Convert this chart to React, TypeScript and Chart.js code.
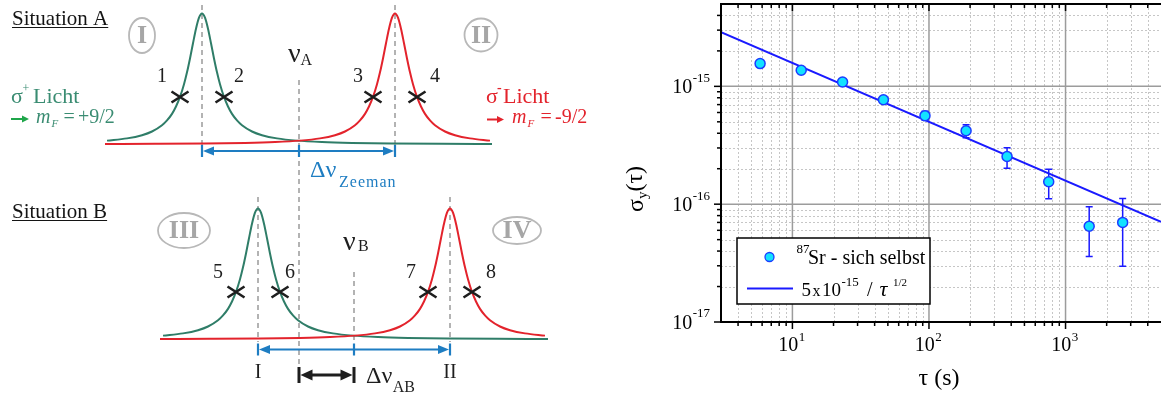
import React, { useEffect, useRef } from "react";
import { Chart, registerables } from "chart.js";
Chart.register(...registerables);

const SERIF = "'Liberation Serif', 'Times New Roman', serif";

// ---------------- Left: schematic resonance data ----------------
const profileOffsets = [0, 3, 6, 9, 12, 15, 18, 22, 26, 30, 35, 40, 50, 60, 75, 95, 120, 150, 190, 240, 290];
const profileValues = [1, 0.968, 0.884, 0.773, 0.657, 0.551, 0.46, 0.363, 0.29, 0.234, 0.184, 0.147, 0.0993, 0.0711, 0.0467, 0.0296, 0.0188, 0.0121, 0.0076, 0.0048, 0.0033];
const sigmaPlusCenters = [202, 258]; // I, III
const sigmaMinusCenters = [395, 450]; // II, IV
const clockCenters = [299, 354]; // nu_A, nu_B
const baselines = [144.5, 339.5];
const peakHeights = [131, 131];
const spanStart = [107, 163];
const spanEnd = [492, 547];
const probeOffset = 22;
const probeLabels = [["1", "2", "3", "4"], ["5", "6", "7", "8"]];
const resonanceLabels = [["I", "II"], ["III", "IV"]];
const situationLabels = ["Situation A", "Situation B"];

// ---------------- Right: Allan deviation data ----------------
const tau = [5.8, 11.6, 23.3, 46.4, 93.5, 187, 373, 753, 1490, 2620];
const sigmaY = [1.56e-15, 1.37e-15, 1.09e-15, 7.7e-16, 5.64e-16, 4.2e-16, 2.54e-16, 1.55e-16, 6.5e-17, 7.0e-17];
const sigmaUpper = [1.6e-15, 1.41e-15, 1.12e-15, 7.9e-16, 6.15e-16, 4.72e-16, 3.01e-16, 1.98e-16, 9.5e-17, 1.12e-16];
const sigmaLower = [1.52e-15, 1.33e-15, 1.06e-15, 7.5e-16, 5.15e-16, 3.66e-16, 2.02e-16, 1.11e-16, 3.6e-17, 2.97e-17];
const fitTau = [3, 5000];
const fitSigma = [2.89e-15, 7.07e-17];
const xRange = [3, 5000];
const yRange = [1e-17, 5e-15];
const xMajorTicks = [10, 100, 1000];
const xTickExponents = ["1", "2", "3"];
const yMajorTicks = [1e-17, 1e-16, 1e-15];
const yTickExponents = ["-17", "-16", "-15"];
const minorMultipliers = [2, 3, 4, 5, 6, 7, 8, 9];
const xDecades = [1, 10, 100, 1000];
const yDecades = [1e-17, 1e-16, 1e-15];

const GREEN = "#2f7d68";
const GREEN_TXT = "#3a8c72";
const GREEN_ARROW = "#1fa64a";
const RED = "#e3232c";
const BLUE = "#1e7dc2";
const GUIDE = "#b3b3b3";
const DATA_BLUE = "#1a1aff";

function txt(ctx: CanvasRenderingContext2D, s: string, x: number, y: number, size: number, color: string, opts: any = {}) {
  ctx.font = `${opts.italic ? "italic " : ""}${opts.bold ? "bold " : ""}${size}px ${SERIF}`;
  ctx.fillStyle = color;
  ctx.textAlign = opts.align || "left";
  ctx.textBaseline = opts.baseline || "alphabetic";
  ctx.fillText(s, x, y);
  return ctx.measureText(s).width;
}

function measure(ctx: CanvasRenderingContext2D, s: string, size: number, opts: any = {}) {
  ctx.font = `${opts.italic ? "italic " : ""}${opts.bold ? "bold " : ""}${size}px ${SERIF}`;
  return ctx.measureText(s).width;
}

function head(ctx: CanvasRenderingContext2D, x: number, y: number, dir: number, len: number, half: number) {
  ctx.beginPath();
  ctx.moveTo(x, y);
  ctx.lineTo(x - dir * len, y - half);
  ctx.lineTo(x - dir * len, y + half);
  ctx.closePath();
  ctx.fill();
}

function makeCrossImage(): HTMLCanvasElement {
  const c = document.createElement("canvas");
  c.width = 20;
  c.height = 14;
  const g = c.getContext("2d")!;
  g.strokeStyle = "#1e1e1e";
  g.lineWidth = 2.6;
  g.beginPath();
  g.moveTo(1.5, 1.5);
  g.lineTo(18.5, 12.5);
  g.moveTo(1.5, 12.5);
  g.lineTo(18.5, 1.5);
  g.stroke();
  return c;
}

function buildCurve(center: number, start: number, end: number, base: number, h: number) {
  const pts: { x: number; y: number }[] = [];
  for (let i = profileOffsets.length - 1; i >= 1; i--) {
    const x = center - profileOffsets[i];
    if (x >= start - 4) pts.push({ x, y: base - h * profileValues[i] });
  }
  pts.push({ x: center, y: base - h * profileValues[0] });
  for (let i = 1; i < profileOffsets.length; i++) {
    const x = center + profileOffsets[i];
    if (x <= end + 4) pts.push({ x, y: base - h * profileValues[i] });
  }
  return pts;
}

const peakGuideTop = [5, 197];
const peakGuideBottom = [158, 342];
const clockGuideTop = [80, 272];
const clockGuideBottom = [372, 353];

function leftConfig(): any {
  const probeIdx = profileOffsets.indexOf(probeOffset);
  const probes: { x: number; y: number }[] = [];
  for (let s = 0; s < 2; s++) {
    const yP = baselines[s] - peakHeights[s] * profileValues[probeIdx];
    probes.push({ x: sigmaPlusCenters[s] - probeOffset, y: yP });
    probes.push({ x: sigmaPlusCenters[s] + probeOffset, y: yP });
    probes.push({ x: sigmaMinusCenters[s] - probeOffset, y: yP });
    probes.push({ x: sigmaMinusCenters[s] + probeOffset, y: yP });
  }
  const datasets: any[] = [
    { data: probes, pointStyle: makeCrossImage(), pointRadius: 8, showLine: false, clip: false },
  ];
  for (let s = 0; s < 2; s++) {
    datasets.push({
      data: buildCurve(sigmaMinusCenters[s], spanStart[s], spanEnd[s], baselines[s], peakHeights[s]),
      showLine: true, borderColor: RED, borderWidth: 2, pointRadius: 0, cubicInterpolationMode: "monotone", clip: false,
    });
    datasets.push({
      data: buildCurve(sigmaPlusCenters[s], spanStart[s], spanEnd[s], baselines[s], peakHeights[s]),
      showLine: true, borderColor: GREEN, borderWidth: 2, pointRadius: 0, cubicInterpolationMode: "monotone", clip: false,
    });
  }
  for (let s = 0; s < 2; s++) {
    const guides = [
      [sigmaPlusCenters[s], peakGuideTop[s], peakGuideBottom[s]],
      [sigmaMinusCenters[s], peakGuideTop[s], peakGuideBottom[s]],
      [clockCenters[s], clockGuideTop[s], clockGuideBottom[s]],
    ];
    guides.forEach(([gx, t, b]) =>
      datasets.push({
        data: [{ x: gx, y: t }, { x: gx, y: b }],
        showLine: true, borderColor: GUIDE, borderWidth: 2, borderDash: [5, 4], pointRadius: 0, clip: false,
      })
    );
  }

  const plugin = {
    id: "schematicText",
    afterDraw(chart: any) {
      const ctx: CanvasRenderingContext2D = chart.ctx;
      const xs = chart.scales.x, ys = chart.scales.y;
      const px = (v: number) => xs.getPixelForValue(v);
      const py = (v: number) => ys.getPixelForValue(v);
      ctx.save();

      // Situation headings
      const headY = [25, 218];
      for (let s = 0; s < 2; s++) {
        const w = txt(ctx, situationLabels[s], 12, headY[s], 21, "#141414");
        ctx.strokeStyle = "#141414";
        ctx.lineWidth = 1.2;
        ctx.beginPath();
        ctx.moveTo(12, headY[s] + 2.5);
        ctx.lineTo(12 + w, headY[s] + 2.5);
        ctx.stroke();
      }

      // circled roman numerals
      const ell = [
        [142, 35.5, 13, 17.5], [481, 35, 16.5, 16.5],
        [184, 230.5, 26, 17.5], [517, 230.5, 24, 13.5],
      ];
      const romans = [resonanceLabels[0][0], resonanceLabels[0][1], resonanceLabels[1][0], resonanceLabels[1][1]];
      ell.forEach(([cx, cy, rx, ry], i) => {
        ctx.strokeStyle = "#b8b8b8";
        ctx.lineWidth = 1.8;
        ctx.beginPath();
        ctx.ellipse(cx, cy, rx, ry, 0, 0, Math.PI * 2);
        ctx.stroke();
        txt(ctx, romans[i], cx, cy + 1, 26, "#a6a6a6", { bold: true, align: "center", baseline: "middle" });
      });

      // probe numbers
      const numPos = [
        [[-18, -20], [15, -20], [-15, -20], [18, -20]],
        [[-18, -19], [10, -19], [-17, -19], [19, -19]],
      ];
      const probeIdx = profileOffsets.indexOf(probeOffset);
      for (let s = 0; s < 2; s++) {
        const yP = py(baselines[s] - peakHeights[s] * profileValues[probeIdx]);
        const xsP = [
          sigmaPlusCenters[s] - probeOffset, sigmaPlusCenters[s] + probeOffset,
          sigmaMinusCenters[s] - probeOffset, sigmaMinusCenters[s] + probeOffset,
        ];
        xsP.forEach((xv, i) => {
          txt(ctx, probeLabels[s][i], px(xv) + numPos[s][i][0], yP + numPos[s][i][1], 20, "#1e1e1e", { align: "center", baseline: "middle" });
        });
      }

      // nu_A, nu_B
      txt(ctx, "ν", 288, 61.5, 28, "#1e1e1e");
      txt(ctx, "A", 300.5, 65, 16, "#1e1e1e");
      txt(ctx, "ν", 343, 249.5, 28, "#1e1e1e");
      txt(ctx, "B", 358, 251, 16, "#1e1e1e");

      // sigma+ / sigma- texts
      txt(ctx, "σ", 11, 103, 22, GREEN_TXT);
      txt(ctx, "+", 22.5, 92, 12, GREEN_TXT);
      txt(ctx, "Licht", 33, 103, 22, GREEN_TXT);
      ctx.strokeStyle = GREEN_ARROW; ctx.fillStyle = GREEN_ARROW; ctx.lineWidth = 2;
      ctx.beginPath(); ctx.moveTo(11, 119); ctx.lineTo(23, 119); ctx.stroke();
      head(ctx, 29, 119, 1, 7, 3.5);
      txt(ctx, "m", 36, 122.5, 20, GREEN_TXT, { italic: true });
      txt(ctx, "F", 51.5, 126.5, 11, GREEN_TXT, { italic: true });
      txt(ctx, "=", 63.5, 122.5, 20, GREEN_TXT);
      txt(ctx, "+9/2", 78, 122.5, 20, GREEN_TXT);

      txt(ctx, "σ", 486, 103, 22, RED);
      txt(ctx, "-", 497, 92, 14, RED, { bold: true });
      txt(ctx, "Licht", 503, 103, 22, RED);
      ctx.strokeStyle = RED; ctx.fillStyle = RED; ctx.lineWidth = 2;
      ctx.beginPath(); ctx.moveTo(487, 119.5); ctx.lineTo(498, 119.5); ctx.stroke();
      head(ctx, 504, 119.5, 1, 7, 3.5);
      txt(ctx, "m", 512, 122.5, 20, RED, { italic: true });
      txt(ctx, "F", 527.5, 126.5, 11, RED, { italic: true });
      txt(ctx, "=", 540.5, 122.5, 20, RED);
      txt(ctx, "-9/2", 555, 122.5, 20, RED);

      // blue Zeeman arrows
      const arrowY = [151, 349.5];
      for (let s = 0; s < 2; s++) {
        const y = arrowY[s];
        const x1 = px(sigmaPlusCenters[s]), x2 = px(sigmaMinusCenters[s]), xm = px(clockCenters[s]);
        ctx.strokeStyle = BLUE; ctx.fillStyle = BLUE; ctx.lineWidth = 2.2;
        ctx.beginPath(); ctx.moveTo(x1 + 6, y); ctx.lineTo(x2 - 6, y); ctx.stroke();
        head(ctx, x1 + 1, y, -1, 11, 4.5);
        head(ctx, x2 - 1, y, 1, 11, 4.5);
        [x1, xm, x2].forEach((xx) => {
          ctx.beginPath(); ctx.moveTo(xx, y - 6); ctx.lineTo(xx, y + 6); ctx.stroke();
        });
      }
      txt(ctx, "Δν", 310, 177, 24, BLUE);
      (ctx as any).letterSpacing = "1px";
      txt(ctx, "Zeeman", 339, 187, 16, BLUE);
      (ctx as any).letterSpacing = "0px";

      // I / II labels
      txt(ctx, resonanceLabels[0][0], px(sigmaPlusCenters[1]), 373, 20, "#1e1e1e", { align: "center", baseline: "middle" });
      txt(ctx, resonanceLabels[0][1], px(sigmaMinusCenters[1]), 373, 20, "#1e1e1e", { align: "center", baseline: "middle" });

      // black delta nu_AB arrow
      const ya = 375;
      const a1 = px(clockCenters[0]), a2 = px(clockCenters[1]);
      ctx.strokeStyle = "#1e1e1e"; ctx.fillStyle = "#1e1e1e"; ctx.lineWidth = 3;
      ctx.beginPath(); ctx.moveTo(a1 + 8, ya); ctx.lineTo(a2 - 8, ya); ctx.stroke();
      ctx.beginPath(); ctx.moveTo(a1, ya - 8); ctx.lineTo(a1, ya + 8); ctx.moveTo(a2, ya - 8); ctx.lineTo(a2, ya + 8); ctx.stroke();
      head(ctx, a1 + 1.5, ya, -1, 12, 5.5);
      head(ctx, a2 - 1.5, ya, 1, 12, 5.5);
      const wd = txt(ctx, "Δν", 366, 383, 24, "#1e1e1e");
      txt(ctx, "AB", 366 + wd + 0.5, 391.5, 16, "#1e1e1e");

      ctx.restore();
    },
  };

  return {
    type: "scatter",
    data: { datasets },
    options: {
      responsive: false,
      animation: false,
      events: [],
      layout: { padding: 0, autoPadding: false },
      scales: {
        x: { type: "linear", min: 0, max: 600, display: false },
        y: { type: "linear", min: 0, max: 396, reverse: true, display: false },
      },
      plugins: { legend: { display: false }, tooltip: { enabled: false } },
    },
    plugins: [plugin],
  };
}

function rightConfig(): any {
  const points = tau.map((t, i) => ({ x: t, y: sigmaY[i] }));
  const fit = fitTau.map((t, i) => ({ x: t, y: fitSigma[i] }));

  const plugin = {
    id: "allanDecor",
    beforeDatasetsDraw(chart: any) {
      const ctx: CanvasRenderingContext2D = chart.ctx;
      const a = chart.chartArea;
      const xs = chart.scales.x, ys = chart.scales.y;
      ctx.save();
      // minor grid
      ctx.strokeStyle = "#c6c6c6";
      ctx.lineWidth = 1;
      ctx.setLineDash([2, 2]);
      xDecades.forEach((d) =>
        minorMultipliers.forEach((m) => {
          const v = m * d;
          if (v <= xRange[0] || v >= xRange[1]) return;
          const p = Math.round(xs.getPixelForValue(v)) + 0.5;
          ctx.beginPath(); ctx.moveTo(p, a.top); ctx.lineTo(p, a.bottom); ctx.stroke();
        })
      );
      yDecades.forEach((d) =>
        minorMultipliers.forEach((m) => {
          const v = m * d;
          if (v <= yRange[0] || v >= yRange[1]) return;
          const p = Math.round(ys.getPixelForValue(v)) + 0.5;
          ctx.beginPath(); ctx.moveTo(a.left, p); ctx.lineTo(a.right, p); ctx.stroke();
        })
      );
      // major grid
      ctx.setLineDash([]);
      ctx.strokeStyle = "#9c9c9c";
      ctx.lineWidth = 1.5;
      xMajorTicks.forEach((v) => {
        const p = xs.getPixelForValue(v);
        ctx.beginPath(); ctx.moveTo(p, a.top); ctx.lineTo(p, a.bottom); ctx.stroke();
      });
      yMajorTicks.forEach((v) => {
        const p = ys.getPixelForValue(v);
        ctx.beginPath(); ctx.moveTo(a.left, p); ctx.lineTo(a.right, p); ctx.stroke();
      });
      // error bars
      ctx.strokeStyle = DATA_BLUE;
      ctx.lineWidth = 1.5;
      tau.forEach((t, i) => {
        const p = xs.getPixelForValue(t);
        const t1 = ys.getPixelForValue(sigmaUpper[i]);
        const b1 = ys.getPixelForValue(sigmaLower[i]);
        ctx.beginPath();
        ctx.moveTo(p, t1); ctx.lineTo(p, b1);
        ctx.moveTo(p - 3.5, t1); ctx.lineTo(p + 3.5, t1);
        ctx.moveTo(p - 3.5, b1); ctx.lineTo(p + 3.5, b1);
        ctx.stroke();
      });
      ctx.restore();
    },
    afterDraw(chart: any) {
      const ctx: CanvasRenderingContext2D = chart.ctx;
      const a = chart.chartArea;
      const xs = chart.scales.x, ys = chart.scales.y;
      ctx.save();
      // axes
      ctx.strokeStyle = "#000";
      ctx.lineWidth = 2;
      ctx.beginPath();
      ctx.moveTo(a.left, a.top); ctx.lineTo(a.left, a.bottom);
      ctx.moveTo(a.left - 1, a.bottom); ctx.lineTo(a.right, a.bottom);
      ctx.moveTo(a.left - 1, a.top); ctx.lineTo(a.right, a.top);
      ctx.stroke();
      // ticks
      ctx.lineWidth = 1.5;
      const xTick = (v: number, len: number) => {
        const p = xs.getPixelForValue(v);
        ctx.beginPath();
        ctx.moveTo(p, a.bottom); ctx.lineTo(p, a.bottom + len);
        ctx.moveTo(p, a.top); ctx.lineTo(p, a.top + len);
        ctx.stroke();
      };
      const yTick = (v: number, len: number) => {
        const p = ys.getPixelForValue(v);
        ctx.beginPath(); ctx.moveTo(a.left, p); ctx.lineTo(a.left - len, p); ctx.stroke();
      };
      xMajorTicks.forEach((v) => xTick(v, 7));
      xDecades.forEach((d) => minorMultipliers.forEach((m) => {
        const v = m * d;
        if (v > xRange[0] && v < xRange[1]) xTick(v, 4);
      }));
      yMajorTicks.forEach((v) => yTick(v, 7));
      yDecades.forEach((d) => minorMultipliers.forEach((m) => {
        const v = m * d;
        if (v > yRange[0] && v < yRange[1]) yTick(v, 4);
      }));

      // x tick labels
      xMajorTicks.forEach((v, i) => {
        const p = xs.getPixelForValue(v);
        const w1 = measure(ctx, "10", 20);
        const w2 = measure(ctx, xTickExponents[i], 13);
        const s = p - (w1 + w2) / 2 - 1;
        txt(ctx, "10", s, 346, 20, "#000", { baseline: "middle" });
        txt(ctx, xTickExponents[i], s + w1 + 0.5, 338, 13, "#000", { baseline: "middle" });
      });
      // y tick labels
      yMajorTicks.forEach((v, i) => {
        const p = ys.getPixelForValue(v);
        const right = a.left - 11;
        const w2 = txt(ctx, yTickExponents[i], right, p - 8, 13, "#000", { align: "right", baseline: "middle" });
        txt(ctx, "10", right - w2 - 0.5, p + 1.5, 20, "#000", { align: "right", baseline: "middle" });
      });

      // axis titles
      txt(ctx, "τ (s)", 339, 379, 24, "#000", { align: "center", baseline: "middle" });
      ctx.save();
      ctx.translate(37, 189);
      ctx.rotate(-Math.PI / 2);
      const w1 = measure(ctx, "σ", 24), w2 = measure(ctx, "y", 15), w3 = measure(ctx, "(τ)", 24);
      let sx = -(w1 + w2 + w3) / 2;
      txt(ctx, "σ", sx, 0, 24, "#000", { baseline: "middle" });
      sx += w1;
      txt(ctx, "y", sx, 6, 15, "#000", { baseline: "middle" });
      sx += w2;
      txt(ctx, "(τ)", sx, -1, 24, "#000", { baseline: "middle" });
      ctx.restore();

      // legend
      const L = 137, T = 238, R = 330, B = 304;
      ctx.fillStyle = "#fff";
      ctx.fillRect(L, T, R - L, B - T);
      ctx.strokeStyle = "#000";
      ctx.lineWidth = 1.5;
      ctx.strokeRect(L, T, R - L, B - T);
      ctx.beginPath();
      ctx.arc(169.5, 257, 4.5, 0, Math.PI * 2);
      ctx.fillStyle = "#12e2ff";
      ctx.fill();
      ctx.strokeStyle = "#1a3cff";
      ctx.lineWidth = 1.3;
      ctx.stroke();
      txt(ctx, "87", 196.5, 253, 13, "#000");
      txt(ctx, "Sr - sich selbst", 208, 264, 20, "#000");
      ctx.strokeStyle = DATA_BLUE;
      ctx.lineWidth = 2;
      ctx.beginPath(); ctx.moveTo(147, 288.5); ctx.lineTo(193, 288.5); ctx.stroke();
      txt(ctx, "5", 201.5, 295.5, 19, "#000");
      txt(ctx, "x", 212.5, 295.5, 16, "#000");
      txt(ctx, "10", 222, 295.5, 19, "#000");
      txt(ctx, "-15", 241.5, 285.5, 13, "#000");
      txt(ctx, "/", 267, 295.5, 20, "#000");
      txt(ctx, "τ", 279.5, 295.5, 22, "#000", { italic: true });
      txt(ctx, "1/2", 293, 285.5, 11, "#000");
      ctx.restore();
    },
  };

  return {
    type: "scatter",
    data: {
      datasets: [
        {
          data: points, showLine: false, pointRadius: 5, pointBorderWidth: 1.5,
          pointBackgroundColor: "#12e2ff", pointBorderColor: "#1a3cff", clip: false,
        },
        {
          data: fit, showLine: true, borderColor: DATA_BLUE, borderWidth: 2, pointRadius: 0,
        },
      ],
    },
    options: {
      responsive: false,
      animation: false,
      events: [],
      layout: { padding: { left: 121, right: 0, top: 4, bottom: 74 }, autoPadding: false },
      scales: {
        x: { type: "logarithmic", min: xRange[0], max: xRange[1], display: false },
        y: { type: "logarithmic", min: yRange[0], max: yRange[1], display: false },
      },
      plugins: { legend: { display: false }, tooltip: { enabled: false } },
    },
    plugins: [plugin],
  };
}

export default function App() {
  const leftRef = useRef<HTMLCanvasElement>(null);
  const rightRef = useRef<HTMLCanvasElement>(null);
  useEffect(() => {
    document.body.style.margin = "0";
    const left = new Chart(leftRef.current!, leftConfig());
    const right = new Chart(rightRef.current!, rightConfig());
    return () => {
      left.destroy();
      right.destroy();
    };
  }, []);
  return (
    <div style={{ position: "absolute", left: 0, top: 0, width: 1161, height: 396, background: "#fff" }}>
      <canvas ref={leftRef} width={600} height={396} style={{ position: "absolute", left: 0, top: 0, width: 600, height: 396 }} />
      <canvas ref={rightRef} width={561} height={396} style={{ position: "absolute", left: 600, top: 0, width: 561, height: 396 }} />
    </div>
  );
}
